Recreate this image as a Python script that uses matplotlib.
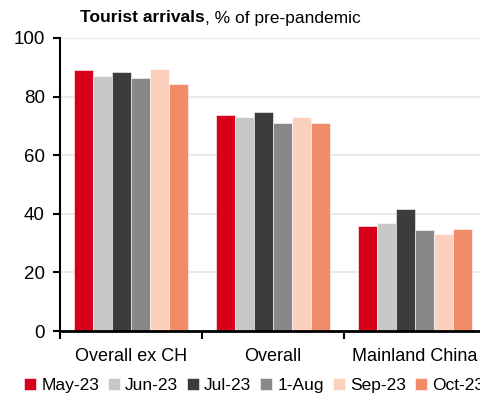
import matplotlib
matplotlib.use("Agg")
import matplotlib.pyplot as plt
import numpy as np

categories = ["Overall ex CH", "Overall", "Mainland China"]
series_names = ["May-23", "Jun-23", "Jul-23", "1-Aug", "Sep-23", "Oct-23"]
may = [89.1, 73.6, 35.7]
jun = [87.0, 72.9, 37.0]
jul = [88.3, 74.8, 41.5]
aug = [86.2, 70.9, 34.4]
sep = [89.5, 72.9, 33.0]
oct_ = [84.3, 70.9, 34.9]
values = [may, jun, jul, aug, sep, oct_]
colors = ["#D7001A", "#C8C8C8", "#3C3C3C", "#888888", "#FBD0BC", "#F28C68"]
yticks = [0, 20, 40, 60, 80, 100]

plt.rcParams['font.family'] = ['Liberation Sans', 'DejaVu Sans']

fig = plt.figure(figsize=(4.81, 3.96), dpi=100)
ax = fig.add_axes([60/481, 1-331/396, 426/481, (331-38)/396])

n = len(series_names)
bw = 0.8 / n
x = np.arange(len(categories)) + 0.5
for i, (name, vals, c) in enumerate(zip(series_names, values, colors)):
    ax.bar(x - 0.4 + bw*(i+0.5), vals, width=bw, color=c, label=name, zorder=3,
           edgecolor='white', linewidth=0.4)

ax.set_xlim(0, 3)
ax.set_ylim(0, 100)
ax.set_yticks(yticks)
ax.yaxis.grid(True, color='#E6E6E6', linewidth=1.2, zorder=0)
ax.set_axisbelow(True)
ax.set_xticks([0, 1, 2, 3])
ax.set_xticklabels([])
ax.set_xticks(x, minor=True)
ax.set_xticklabels(categories, minor=True, fontsize=13)
ax.tick_params(axis='x', which='minor', length=0, pad=12)
ax.tick_params(axis='x', which='major', length=6, width=1.5, direction='out')
ax.tick_params(axis='y', length=5, width=1.5, labelsize=13.5, pad=6)
for s in ['top', 'right']:
    ax.spines[s].set_visible(False)
ax.spines['left'].set_linewidth(1.5)
ax.spines['bottom'].set_linewidth(2)
ax.spines['bottom'].set_zorder(5)
ax.spines['left'].set_zorder(5)

t1 = fig.text(80/481, 1-18/396, "Tourist arrivals", fontsize=12.5, fontweight='bold',
              va='center', ha='left')
fig.canvas.draw()
bb = t1.get_window_extent()
fig.text(bb.x1/481, 1-18/396, ", % of pre-pandemic", fontsize=12.5, va='center', ha='left')

ax.legend(loc='upper left', bbox_to_anchor=(-0.085, -0.16), ncol=6, frameon=False,
          fontsize=12.5, handlelength=0.7, handleheight=0.7, handletextpad=0.3,
          columnspacing=0.5, borderaxespad=0, borderpad=0)

fig.savefig("out.png", dpi=100)
